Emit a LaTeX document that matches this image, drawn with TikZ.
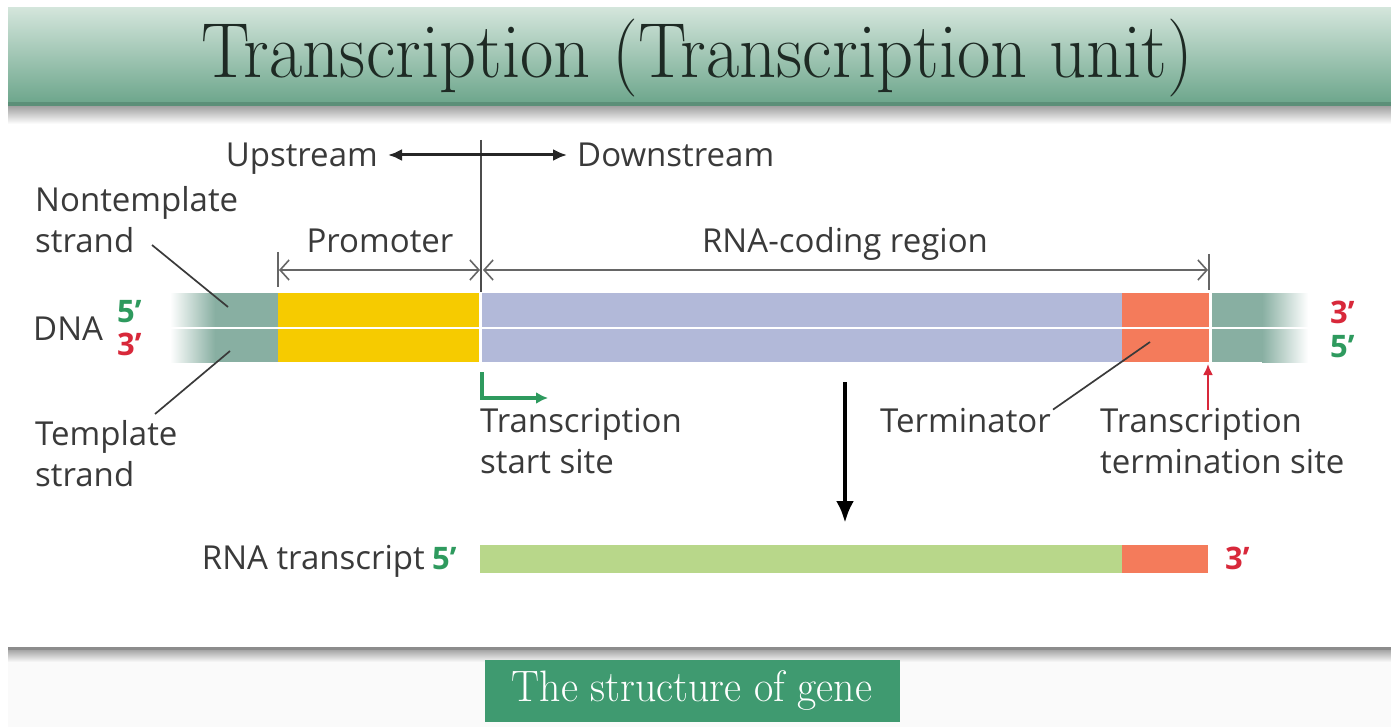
\documentclass[tikz,border=0pt]{standalone}
\usepackage{fontspec}
\usetikzlibrary{arrows.meta}
\newfontfamily\lblfont{Open Sans}
\definecolor{bandtop}{HTML}{D3E5DB}
\definecolor{bandbot}{HTML}{6DA68C}
\definecolor{bandline}{HTML}{5B8F78}
\definecolor{titletext}{HTML}{1E2A24}
\definecolor{strandteal}{HTML}{88AFA2}
\definecolor{promyellow}{HTML}{F6CB00}
\definecolor{codinglav}{HTML}{B2B9D9}
\definecolor{termsalmon}{HTML}{F47B5B}
\definecolor{rnagreen}{HTML}{B8D78A}
\definecolor{primegreen}{HTML}{2E9A5E}
\definecolor{primered}{HTML}{D8283A}
\definecolor{genebox}{HTML}{3F9A70}
\definecolor{labelgray}{HTML}{3A3A3A}

\begin{document}
\begin{tikzpicture}[x=1pt,y=-1pt,
  lbl/.style={font=\lblfont\fontsize{33}{41}\selectfont,text=labelgray,inner sep=0pt},
  twoline/.style={lbl,align=left,anchor=north west},
  prime/.style={font=\lblfont\bfseries\fontsize{31}{31}\selectfont,inner sep=0pt,anchor=base west},
  leader/.style={draw=labelgray,line width=1.7pt},
  dimline/.style={draw=black!60,line width=1.6pt,{Straight Barb[length=9pt,width=20pt]}-{Straight Barb[length=9pt,width=20pt]}},
  tickbar/.style={draw=black!60,line width=1.6pt}]
\path[use as bounding box] (0,0) rectangle (1391,727);
\fill[white] (0,0) rectangle (1391,727);
% title band
\shade[top color=bandtop,bottom color=bandbot] (8,8) rectangle (1391,103);
\fill[bandline] (8,102) rectangle (1391,107);
\shade[top color=black!35,bottom color=white] (8,107) rectangle (1391,124);
\node[font=\fontsize{78}{78}\selectfont,text=titletext,inner sep=0pt] (title) at (697,58) {\scalebox{0.93}[1]{Transcription (Transcription unit)}};
% footer
\fill[black!2] (8,650) rectangle (1391,727);
\shade[top color=black!35,bottom color=black!2] (8,650) rectangle (1391,662);
\fill[black!45] (8,647) rectangle (1391,650);
\node[fill=genebox,minimum width=415pt,minimum height=62pt,text=white,font=\fontsize{44}{44}\selectfont] (gene) at (692,691) {\scalebox{0.95}[1]{The structure of gene}};
% DNA double strand
\shade[left color=white,right color=strandteal] (170,293) rectangle (215,362);
\fill[strandteal] (215,293) rectangle (278,362);
\fill[promyellow] (278,293) rectangle (479,362);
\fill[codinglav] (482,293) rectangle (1122,362);
\fill[termsalmon] (1122,293) rectangle (1209,362);
\fill[strandteal] (1212,293) rectangle (1262,362);
\shade[left color=strandteal,right color=white] (1262,293) rectangle (1308,362);
\draw[white,line width=1.2pt] (170,328) -- (1308,328);
% RNA transcript
\fill[rnagreen] (480,545) rectangle (1122,573);
\fill[termsalmon] (1122,545) rectangle (1208,573);
% upstream / downstream
\coordinate (split) at (481,140);
\coordinate (splitfoot) at (481,292);
\coordinate (upL) at (388,155);
\coordinate (dnR) at (567,155);
\draw[black!70,line width=1.6pt] (split) -- (splitfoot);
\draw[black!85,line width=3pt,{Latex[length=14pt,width=12pt]}-{Latex[length=14pt,width=12pt]}] (upL) -- (dnR);
\node[lbl,anchor=base east] (upstream) at (378,167) {Upstream};
\node[lbl,anchor=base west] (dwnstream) at (577,167) {Downstream};
% dimension lines
\coordinate (promL) at (279,270);
\coordinate (promR) at (480,270);
\coordinate (codeL) at (483,270);
\coordinate (codeR) at (1208,270);
\coordinate (promTickT) at (278,252);
\coordinate (promTickB) at (278,287);
\coordinate (codeTickT) at (1209,254);
\coordinate (codeTickB) at (1209,290);
\draw[tickbar] (promTickT) -- (promTickB);
\draw[tickbar] (codeTickT) -- (codeTickB);
\draw[dimline] (promL) -- (promR);
\draw[dimline] (codeL) -- (codeR);
\node[lbl,anchor=base] (promoter) at (380,252) {Promoter};
\node[lbl,anchor=base] (coding) at (845,252) {RNA-coding region};
% strand labels
\node[twoline] (nontmpl) at (35,186) {Nontemplate\\strand};
\node[twoline] (tmpl) at (35,420) {Template\\strand};
\coordinate (ntFrom) at (152,245);
\coordinate (ntTo) at (228,307);
\coordinate (tFrom) at (155,414);
\coordinate (tTo) at (230,351);
\draw[leader] (ntFrom) -- (ntTo);
\draw[leader] (tFrom) -- (tTo);
\node[lbl,anchor=base west] (dnalbl) at (33,340) {DNA};
\node[prime,text=primegreen] (dnaLfive) at (117,322) {5’};
\node[prime,text=primered] (dnaLthree) at (117,355) {3’};
\node[prime,text=primered] (dnaRthree) at (1330,323) {3’};
\node[prime,text=primegreen] (dnaRfive) at (1330,357) {5’};
% transcription start site
\coordinate (tssTop) at (482,372);
\coordinate (tssBend) at (482,398);
\coordinate (tssTip) at (548,398);
\draw[primegreen,line width=4.5pt,-{Latex[length=12pt,width=12pt]}] (tssTop) -- (tssBend) -- (tssTip);
\node[twoline] (tss) at (480,408) {Transcription\\start site};
% transcription arrow
\coordinate (txTop) at (845,382);
\coordinate (txTip) at (845,523);
\draw[black,line width=4.5pt,-{Latex[length=22pt,width=18pt]}] (txTop) -- (txTip);
% terminator
\node[lbl,anchor=base west] (terminator) at (880,432) {Terminator};
\coordinate (termTo) at (1150,342);
\draw[leader] (terminator.north east) ++(2,2) -- (termTo);
% termination site
\coordinate (ttsFoot) at (1208,410);
\coordinate (ttsTip) at (1208,364);
\draw[primered,line width=2pt,-{Latex[length=11pt,width=10pt]}] (ttsFoot) -- (ttsTip);
\node[twoline] (tts) at (1100,408) {Transcription\\termination site};
% RNA labels
\node[lbl,anchor=base east] (rnalbl) at (425,569) {RNA transcript};
\node[prime,text=primegreen] (rnafive) at (432,569) {5’};
\node[prime,text=primered] (rnathree) at (1225,569) {3’};
\end{tikzpicture}
\end{document}
